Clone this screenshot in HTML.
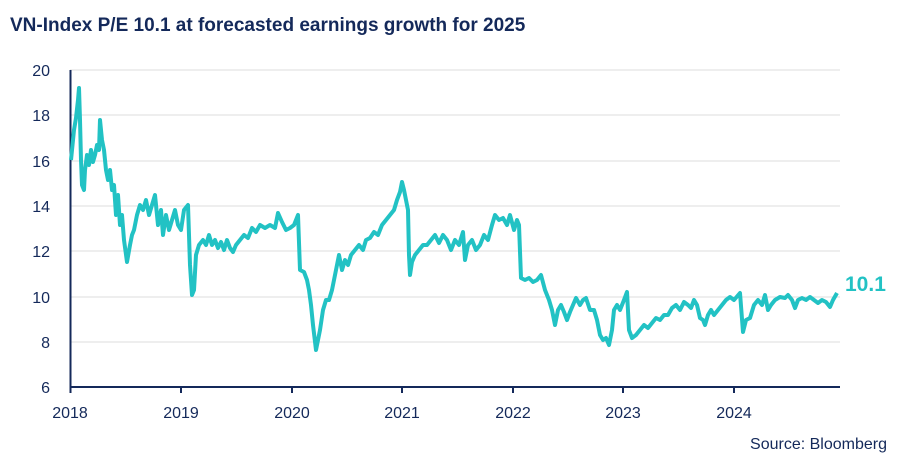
<!DOCTYPE html>
<html><head><meta charset="utf-8"><style>
html,body{margin:0;padding:0;background:#fff;}
body{width:900px;height:465px;overflow:hidden;font-family:"Liberation Sans",sans-serif;}
</style></head><body>
<svg width="900" height="465" xmlns="http://www.w3.org/2000/svg" font-family="Liberation Sans, sans-serif">
<text x="10" y="31" font-size="19" font-weight="bold" fill="#14295a">VN-Index P/E 10.1 at forecasted earnings growth for 2025</text>
<g stroke="#dcdcdc" stroke-width="1">
<line x1="70" y1="70" x2="840" y2="70"/><line x1="70" y1="115" x2="840" y2="115"/>
<line x1="70" y1="161" x2="840" y2="161"/><line x1="70" y1="206" x2="840" y2="206"/>
<line x1="70" y1="251" x2="840" y2="251"/><line x1="70" y1="297" x2="840" y2="297"/>
<line x1="70" y1="342" x2="840" y2="342"/>
</g>
<g fill="#14295a" font-size="16" text-anchor="end">
<text x="50" y="76">20</text><text x="50" y="121">18</text><text x="50" y="167">16</text>
<text x="50" y="212">14</text><text x="50" y="257">12</text><text x="50" y="303">10</text>
<text x="50" y="348">8</text><text x="50" y="393">6</text>
</g>
<g stroke="#14295a" stroke-width="2">
<line x1="70.5" y1="70" x2="70.5" y2="393"/><line x1="70" y1="387" x2="840" y2="387"/>
<line x1="181" y1="387" x2="181" y2="393"/><line x1="292" y1="387" x2="292" y2="393"/>
<line x1="402" y1="387" x2="402" y2="393"/><line x1="513" y1="387" x2="513" y2="393"/>
<line x1="623" y1="387" x2="623" y2="393"/><line x1="734" y1="387" x2="734" y2="393"/>
</g>
<g fill="#14295a" font-size="16" text-anchor="middle">
<text x="70" y="418">2018</text><text x="181" y="418">2019</text><text x="292" y="418">2020</text>
<text x="402" y="418">2021</text><text x="513" y="418">2022</text><text x="623" y="418">2023</text>
<text x="734" y="418">2024</text>
</g>
<polyline fill="none" stroke="#22c2c4" stroke-width="4" stroke-linejoin="round" points="71,160 74,130 76,118 78,100 79,88 80,120 81,160 82,185 84,190 85,170 87,155 89,165 91,150 93,162 95,155 97,145 99,150 100,120 102,140 104,150 106,170 108,180 110,170 112,190 114,185 116,215 118,195 120,225 122,215 124,240 127,262 130,245 132,235 134,230 137,215 140,205 143,210 146,200 149,215 152,205 155,195 158,225 161,210 163,235 166,215 169,230 172,220 175,210 178,225 181,230 184,210 188,205 190,265 192,295 194,290 196,255 199,245 203,240 206,245 209,235 212,245 215,240 218,248 221,242 224,250 227,240 230,248 233,252 236,245 240,240 244,235 248,238 252,228 256,232 260,225 265,228 270,225 275,228 278,213 282,222 286,230 290,228 294,225 298,215 300,270 304,272 307,280 309,290 311,305 313,325 316,350 318,340 320,330 323,310 326,300 329,300 332,290 336,270 339,255 342,270 345,260 348,265 351,255 355,250 359,245 363,250 366,240 370,238 374,232 378,235 382,225 386,220 390,215 394,210 397,200 400,192 402,182 404,190 406,200 408,210 409,255 410,275 412,262 415,255 419,250 423,245 427,245 431,240 435,235 439,243 443,235 447,240 451,250 455,240 459,245 463,232 465,260 468,245 472,240 476,250 480,245 484,235 488,240 492,225 495,215 499,220 503,218 507,225 510,215 514,230 517,220 519,225 521,278 525,280 529,278 533,282 537,280 541,275 545,290 549,300 552,310 555,325 558,310 561,305 564,312 567,320 570,312 573,305 576,298 580,305 583,300 586,298 590,310 594,310 597,320 600,335 603,340 606,338 609,345 612,330 614,310 617,305 620,310 624,300 627,292 629,330 632,338 636,335 640,330 644,325 648,328 652,323 656,318 660,320 664,315 668,315 672,308 676,305 680,310 684,302 688,305 691,308 694,300 697,305 700,318 703,320 705,325 708,315 711,310 714,315 718,310 722,305 726,300 730,297 734,300 740,293 743,332 746,320 750,318 754,305 758,300 762,305 765,295 768,310 771,305 775,300 780,297 785,298 788,295 792,300 795,308 798,300 802,298 806,300 810,297 814,300 818,303 822,300 826,302 830,307 833,300 837,293"/>
<text x="845" y="291" font-size="21" font-weight="bold" fill="#22c2c4">10.1</text>
<text x="887" y="449" font-size="16" fill="#14295a" text-anchor="end">Source: Bloomberg</text>
</svg>
</body></html>
